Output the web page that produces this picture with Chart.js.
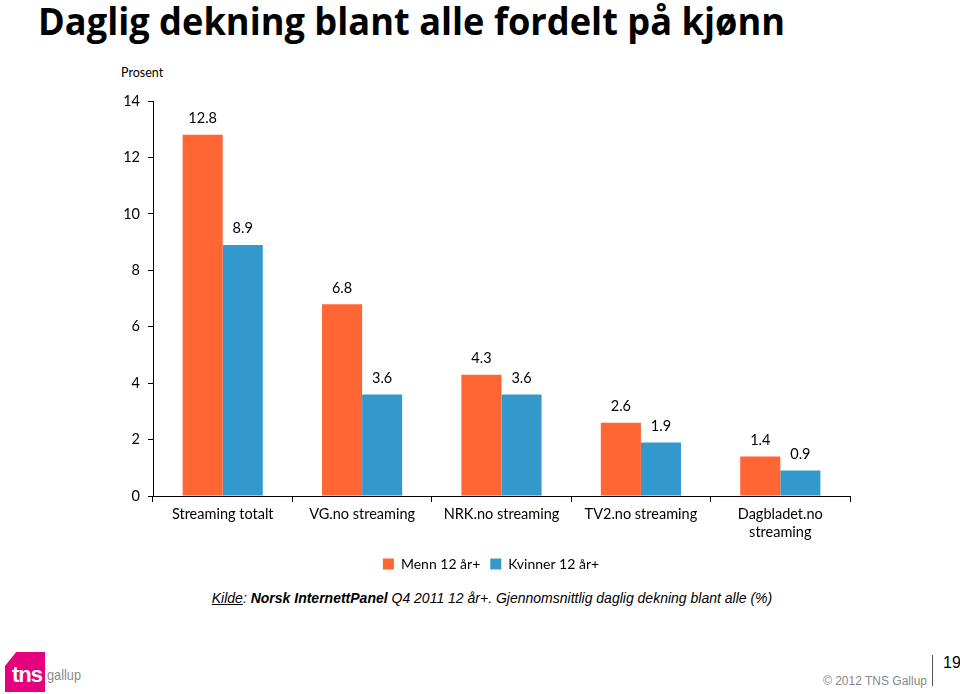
<!DOCTYPE html>
<html>
<head>
<meta charset="utf-8">
<script src="https://cdn.jsdelivr.net/npm/chart.js@4.4.1/dist/chart.umd.min.js"></script>
<style>
  html, body { margin:0; padding:0; background:#fff; width:960px; height:694px; overflow:hidden; position:relative; }
  #title { position:absolute; left:38px; top:-5px; font-family:"Open Sans", sans-serif; font-weight:700; font-size:37px; color:#000; white-space:nowrap; transform-origin:0 0; }
  #unit { position:absolute; left:121px; top:65px; font-family:Lato, sans-serif; font-size:12.5px; color:#000; }
  #wrap { position:absolute; left:0; top:0; width:960px; height:585px; }
  #src { position:absolute; left:0; width:984px; top:590px; text-align:center; font-family:"Liberation Sans", Arial, sans-serif; font-style:italic; font-size:14px; color:#000; }
  #logo { position:absolute; left:5px; top:652px; width:40px; height:40px; background:#e5007d; clip-path:polygon(28% 0,100% 0,100% 100%,0 100%,0 35%); }
  #tns { position:absolute; left:12px; top:662px; font-family:"Liberation Sans", Arial, sans-serif; font-weight:700; font-size:22px; color:#fff; letter-spacing:-1px; }
  #gallup { position:absolute; left:47px; top:666px; font-family:"Liberation Sans", Arial, sans-serif; font-size:15px; color:#8a8a8a; transform:scaleX(0.85); transform-origin:0 0; }
  #copy { position:absolute; left:823px; top:674px; font-family:"Liberation Sans", Arial, sans-serif; font-size:12px; color:#888; }
  #vline { position:absolute; left:932px; top:655px; width:1px; height:31px; background:#555; }
  #page { position:absolute; left:943px; top:654px; font-family:"Liberation Sans", Arial, sans-serif; font-size:16px; color:#000; }
</style>
</head>
<body>
<div id="title">Daglig dekning blant alle fordelt på kjønn</div>
<div id="unit">Prosent</div>
<div id="wrap"><canvas id="c" width="960" height="585"></canvas></div>
<div id="src"><u>Kilde</u>: <b>Norsk InternettPanel</b> Q4 2011 12 år+. Gjennomsnittlig daglig dekning blant alle (%)</div>
<div id="logo"></div>
<div id="tns">tns</div>
<div id="gallup">gallup</div>
<div id="copy">© 2012 TNS Gallup</div>
<div id="vline"></div>
<div id="page">19</div>
<script>
const categories = [["Streaming totalt"], ["VG.no streaming"], ["NRK.no streaming"], ["TV2.no streaming"], ["Dagbladet.no", "streaming"]];
const seriesNames = ["Menn 12 år+", "Kvinner 12 år+"];
const menn = [12.8, 6.8, 4.3, 2.6, 1.4];
const kvinner = [8.9, 3.6, 3.6, 1.9, 0.9];
const yTicks = [0, 2, 4, 6, 8, 10, 12, 14];

// fit title width
(function(){
  const t = document.getElementById('title');
  const w = t.getBoundingClientRect().width;
  t.style.transform = 'scaleX(' + (747 / w) + ')';
})();

const valueLabels = {
  id: 'valueLabels',
  afterDatasetsDraw(chart) {
    const ctx = chart.ctx;
    ctx.save();
    ctx.font = '14.5px Lato, sans-serif';
    ctx.fillStyle = '#000';
    ctx.textAlign = 'center';
    ctx.textBaseline = 'bottom';
    chart.data.datasets.forEach((ds, i) => {
      chart.getDatasetMeta(i).data.forEach((bar, j) => {
        ctx.fillText(ds.data[j].toFixed(1), bar.x, bar.y - 9);
      });
    });
    ctx.restore();
  }
};

const shiftLegend = {
  id: 'shiftLegend',
  afterLayout(chart) {
    const lg = chart.legend;
    if (lg) { lg.left += 66; lg.right += 66; }
  }
};

new Chart(document.getElementById('c'), {
  type: 'bar',
  data: {
    labels: categories,
    datasets: [
      { label: seriesNames[0], data: menn, backgroundColor: '#ff6633', borderWidth: 0, categoryPercentage: 0.575, barPercentage: 1.0 },
      { label: seriesNames[1], data: kvinner, backgroundColor: '#3399cc', borderWidth: 0, categoryPercentage: 0.575, barPercentage: 1.0 }
    ]
  },
  options: {
    responsive: false,
    animation: false,
    devicePixelRatio: 1,
    layout: { padding: { left: 0, right: 110, top: 101, bottom: 4 } },
    scales: {
      x: {
        grid: { display: true, drawOnChartArea: false, offset: true, color: '#000', tickLength: 6, lineWidth: 1 },
        border: { display: true, color: '#000', width: 1 },
        ticks: { color: '#000', font: { family: 'Lato, sans-serif', size: 14.5 }, padding: 4, maxRotation: 0, autoSkip: false },
        afterFit(s) { s.height = 51; }
      },
      y: {
        min: 0, max: 14,
        afterBuildTicks(s) { s.ticks = yTicks.map(v => ({ value: v })); },
        grid: { display: true, drawOnChartArea: false, color: '#000', tickLength: 5 },
        border: { display: true, color: '#000', width: 1 },
        ticks: { color: '#000', font: { family: 'Lato, sans-serif', size: 14.5 }, padding: 8 },
        afterFit(s) { s.width = 153; }
      }
    },
    plugins: {
      legend: {
        position: 'bottom',
        labels: { boxWidth: 11, boxHeight: 11, color: '#000', font: { family: 'Lato, sans-serif', size: 14 }, padding: 10 }
      },
      tooltip: { enabled: false }
    }
  },
  plugins: [valueLabels, shiftLegend]
});
</script>
</body>
</html>
